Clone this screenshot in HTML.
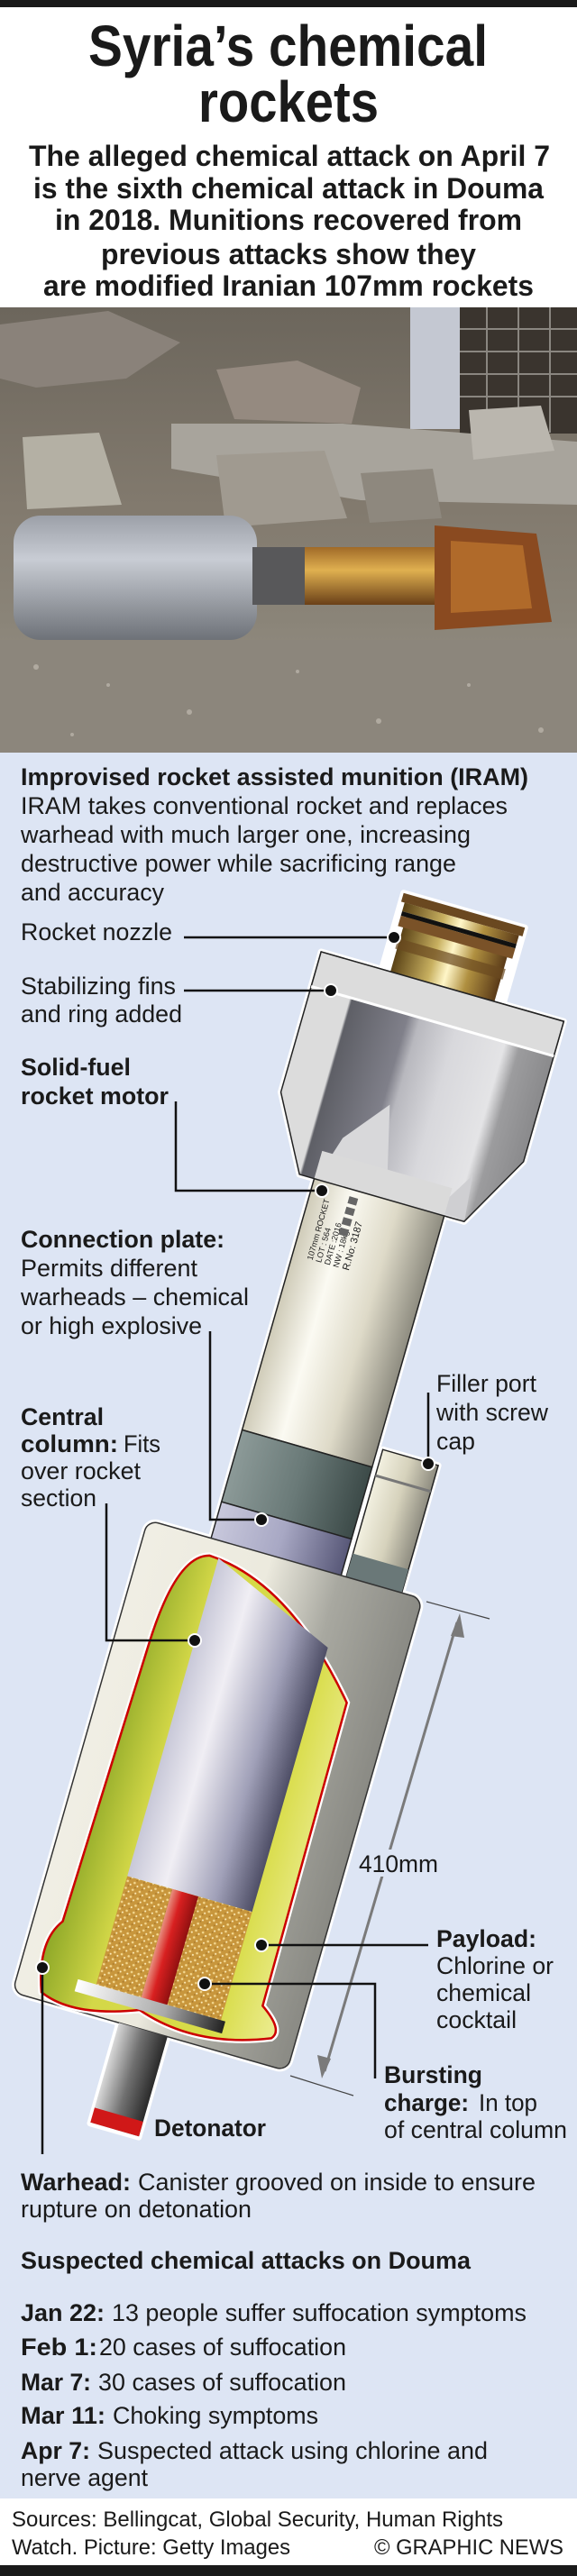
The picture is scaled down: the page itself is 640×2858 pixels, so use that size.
<!DOCTYPE html>
<html><head><meta charset="utf-8"><style>
html,body{margin:0;padding:0;background:#fff}
svg{display:block}
text{font-family:"Liberation Sans",sans-serif;fill:#1a1a1a}
.b{font-weight:bold}
</style></head><body>
<svg width="640" height="2858" viewBox="0 0 640 2858" xmlns="http://www.w3.org/2000/svg">
<defs>
<linearGradient id="brass" x1="0" x2="1"><stop offset="0" stop-color="#5a4216"/><stop offset=".35" stop-color="#c8b060"/><stop offset=".5" stop-color="#fff6c8"/><stop offset=".7" stop-color="#b09040"/><stop offset="1" stop-color="#5a3a18"/></linearGradient>
<linearGradient id="shroud" x1="0" x2="1"><stop offset="0" stop-color="#dcdcdc"/><stop offset=".16" stop-color="#dcdcdc"/><stop offset=".17" stop-color="#5e5f66"/><stop offset=".4" stop-color="#80808a"/><stop offset=".45" stop-color="#b8b8be"/><stop offset=".6" stop-color="#d8d8dc"/><stop offset=".8" stop-color="#e4e4e6"/><stop offset=".86" stop-color="#9c9c9e"/><stop offset="1" stop-color="#8a8a8c"/></linearGradient>
<linearGradient id="tube" x1="0" x2="1"><stop offset="0" stop-color="#cfcbb8"/><stop offset=".3" stop-color="#fbfaf2"/><stop offset=".65" stop-color="#dedac8"/><stop offset="1" stop-color="#8e8c80"/></linearGradient>
<linearGradient id="band" x1="0" x2="1"><stop offset="0" stop-color="#8c9a98"/><stop offset=".5" stop-color="#6a7a78"/><stop offset="1" stop-color="#3c4a48"/></linearGradient>
<linearGradient id="lav" x1="0" x2="1"><stop offset="0" stop-color="#c8c8dc"/><stop offset=".5" stop-color="#a8a8c4"/><stop offset="1" stop-color="#585878"/></linearGradient>
<linearGradient id="port" x1="0" x2="1"><stop offset="0" stop-color="#f2f0e0"/><stop offset=".5" stop-color="#d6d2bc"/><stop offset="1" stop-color="#8e8c80"/></linearGradient>
<linearGradient id="can" x1="0" x2="1"><stop offset="0" stop-color="#f0eee4"/><stop offset=".45" stop-color="#eceade"/><stop offset=".7" stop-color="#a8a8a0"/><stop offset="1" stop-color="#8a8a84"/></linearGradient>
<linearGradient id="pay" x1="0" x2="1"><stop offset="0" stop-color="#8ea828"/><stop offset=".25" stop-color="#d4d848"/><stop offset=".75" stop-color="#d8dc48"/><stop offset="1" stop-color="#ecec90"/></linearGradient>
<linearGradient id="col" x1="0" x2="1"><stop offset="0" stop-color="#c8c8d8"/><stop offset=".3" stop-color="#f0eef4"/><stop offset=".7" stop-color="#a0a0b8"/><stop offset="1" stop-color="#4e4e66"/></linearGradient>
<linearGradient id="red" x1="0" x2="1"><stop offset="0" stop-color="#e89080"/><stop offset=".4" stop-color="#d82020"/><stop offset="1" stop-color="#901010"/></linearGradient>
<linearGradient id="rod" x1="0" x2="1"><stop offset="0" stop-color="#d8d8d8"/><stop offset=".5" stop-color="#707070"/><stop offset="1" stop-color="#2a2a2a"/></linearGradient>
<linearGradient id="plate" x1="0" x2="1"><stop offset="0" stop-color="#fff"/><stop offset=".6" stop-color="#aaa"/><stop offset="1" stop-color="#222"/></linearGradient>
<pattern id="speck" width="8" height="8" patternUnits="userSpaceOnUse"><rect width="8" height="8" fill="#c8963c"/><circle cx="2" cy="2" r="1.3" fill="#f4d890"/><circle cx="6" cy="5" r="1" fill="#fff0c0"/><circle cx="4" cy="7" r=".8" fill="#a07028"/></pattern>
<linearGradient id="ph" x1="0" y1="0" x2="0" y2="1"><stop offset="0" stop-color="#6c665c"/><stop offset=".45" stop-color="#827a6e"/><stop offset=".7" stop-color="#8a8478"/><stop offset="1" stop-color="#9c968c"/></linearGradient>
<linearGradient id="cyl" x1="0" y1="0" x2="0" y2="1"><stop offset="0" stop-color="#9ca0a8"/><stop offset=".35" stop-color="#c8ccd4"/><stop offset="1" stop-color="#6e7278"/></linearGradient>
<linearGradient id="orng" x1="0" y1="0" x2="0" y2="1"><stop offset="0" stop-color="#a06a28"/><stop offset=".4" stop-color="#e0b050"/><stop offset="1" stop-color="#6a4018"/></linearGradient>
</defs>

<rect x="0" y="0" width="640" height="8" fill="#1a1a1a"/>
<text class="b" x="98" y="73" font-size="64" textLength="443" lengthAdjust="spacingAndGlyphs">Syria’s chemical</text>
<text class="b" x="220" y="135" font-size="64" textLength="200" lengthAdjust="spacingAndGlyphs">rockets</text>
<g class="b" font-size="32">
<text class="b" x="32" y="184" textLength="578" lengthAdjust="spacingAndGlyphs">The alleged chemical attack on April 7</text>
<text class="b" x="37" y="220" textLength="566" lengthAdjust="spacingAndGlyphs">is the sixth chemical attack in Douma</text>
<text class="b" x="61" y="255" textLength="518" lengthAdjust="spacingAndGlyphs">in 2018. Munitions recovered from</text>
<text class="b" x="112" y="293" textLength="416" lengthAdjust="spacingAndGlyphs">previous attacks show they</text>
<text class="b" x="48" y="328" textLength="544" lengthAdjust="spacingAndGlyphs">are modified Iranian 107mm rockets</text>
</g>

<!-- photo -->
<rect x="0" y="341" width="640" height="494" fill="url(#ph)"/>
<rect x="455" y="341" width="60" height="135" fill="#c4c8d2"/>
<rect x="510" y="341" width="130" height="140" fill="#3a342e"/>
<g stroke="#8a8680" stroke-width="2"><line x1="510" y1="365" x2="640" y2="365"/><line x1="510" y1="390" x2="640" y2="390"/><line x1="510" y1="415" x2="640" y2="415"/><line x1="510" y1="440" x2="640" y2="440"/><line x1="540" y1="341" x2="540" y2="480"/><line x1="575" y1="341" x2="575" y2="480"/><line x1="610" y1="341" x2="610" y2="480"/></g>
<polygon points="0,360 120,345 200,380 140,420 40,430 0,420" fill="#8a827a"/>
<polygon points="240,410 330,400 400,430 390,470 260,465" fill="#958a80"/>
<polygon points="190,470 380,470 640,490 640,560 400,555 190,520" fill="#a8a49c"/>
<polygon points="25,485 110,480 135,560 30,565" fill="#b4b0a4"/>
<polygon points="240,505 360,500 385,575 250,585" fill="#a09a90"/>
<polygon points="520,455 600,450 615,500 525,510" fill="#bab6ae"/>
<polygon points="400,525 480,520 490,575 410,580" fill="#8e887e"/>
<rect x="0" y="710" width="640" height="125" fill="#8c867c"/>
<g fill="#b0aaa0"><circle cx="40" cy="740" r="3"/><circle cx="120" cy="760" r="2"/><circle cx="210" cy="790" r="3"/><circle cx="330" cy="745" r="2"/><circle cx="420" cy="800" r="3"/><circle cx="520" cy="760" r="2"/><circle cx="600" cy="810" r="3"/><circle cx="80" cy="815" r="2"/></g>
<rect x="15" y="572" width="270" height="138" rx="30" fill="url(#cyl)"/>
<rect x="280" y="607" width="60" height="64" fill="#58585a"/>
<rect x="338" y="607" width="146" height="64" fill="url(#orng)"/>
<polygon points="482,583 595,592 612,690 482,699" fill="#8a4a20"/>
<polygon points="500,600 580,605 590,675 500,680" fill="#b06a2a"/>

<!-- diagram bg -->
<rect x="0" y="835" width="640" height="1937" fill="#dde5f4"/>

<g font-size="27">
<text class="b" x="23" y="871" textLength="563" lengthAdjust="spacingAndGlyphs">Improvised rocket assisted munition (IRAM)</text>
<text x="23" y="903" textLength="540" lengthAdjust="spacingAndGlyphs">IRAM takes conventional rocket and replaces</text>
<text x="23" y="935" textLength="499" lengthAdjust="spacingAndGlyphs">warhead with much larger one, increasing</text>
<text x="23" y="967" textLength="483" lengthAdjust="spacingAndGlyphs">destructive power while sacrificing range</text>
<text x="23" y="999" textLength="159" lengthAdjust="spacingAndGlyphs">and accuracy</text>
<text x="23" y="1043" textLength="168" lengthAdjust="spacingAndGlyphs">Rocket nozzle</text>
<text x="23" y="1103" textLength="172" lengthAdjust="spacingAndGlyphs">Stabilizing fins</text>
<text x="23" y="1134" textLength="179" lengthAdjust="spacingAndGlyphs">and ring added</text>
<text class="b" x="23" y="1193" textLength="122" lengthAdjust="spacingAndGlyphs">Solid-fuel</text>
<text class="b" x="23" y="1225" textLength="164" lengthAdjust="spacingAndGlyphs">rocket motor</text>
<text class="b" x="23" y="1384" textLength="226" lengthAdjust="spacingAndGlyphs">Connection plate:</text>
<text x="23" y="1416" textLength="196" lengthAdjust="spacingAndGlyphs">Permits different</text>
<text x="23" y="1448" textLength="253" lengthAdjust="spacingAndGlyphs">warheads – chemical</text>
<text x="23" y="1480" textLength="201" lengthAdjust="spacingAndGlyphs">or high explosive</text>
<text x="484" y="1544" textLength="111" lengthAdjust="spacingAndGlyphs">Filler port</text>
<text x="484" y="1576" textLength="124" lengthAdjust="spacingAndGlyphs">with screw</text>
<text x="484" y="1608" textLength="43" lengthAdjust="spacingAndGlyphs">cap</text>
<text class="b" x="23" y="1581" textLength="92" lengthAdjust="spacingAndGlyphs">Central</text>
<text class="b" x="23" y="1611" textLength="108" lengthAdjust="spacingAndGlyphs">column:</text>
<text x="137" y="1611" textLength="41" lengthAdjust="spacingAndGlyphs">Fits</text>
<text x="23" y="1641" textLength="133" lengthAdjust="spacingAndGlyphs">over rocket</text>
<text x="23" y="1671" textLength="84" lengthAdjust="spacingAndGlyphs">section</text>
</g>

<!-- rocket -->
<g transform="translate(515,1010) rotate(16)">
 <g stroke="#fff" stroke-width="7" fill="#fff" stroke-linejoin="round">
  <rect x="-70" y="0" width="140" height="95"/>
  <polygon points="-140,88 140,88 140,250 95,332 -95,332 -140,250"/>
  <rect x="-78" y="330" width="150" height="420"/>
  <rect x="78" y="600" width="64" height="160"/>
  <rect x="-151" y="747" width="317" height="545" rx="12"/>
  <rect x="-28" y="1290" width="56" height="118"/>
 </g>
 <!-- nozzle -->
 <rect x="-60" y="22" width="120" height="75" fill="url(#brass)"/>
 <rect x="-70" y="0" width="140" height="10" fill="#6a4820"/>
 <rect x="-66" y="10" width="132" height="10" fill="url(#brass)"/>
 <rect x="-66" y="20" width="132" height="5" fill="#111"/>
 <rect x="-66" y="25" width="132" height="12" fill="#7a5228"/>
 <rect x="-62" y="50" width="124" height="12" fill="#6a4820" opacity=".7"/>
 <!-- shroud -->
 <polygon points="-140,88 140,88 140,250 95,332 -95,332 -140,250" fill="url(#shroud)" stroke="#222" stroke-width="1.5"/>
 <rect x="-140" y="88" width="280" height="40" fill="#dcdcdc" stroke="#222" stroke-width="1.5"/>
 <line x1="-140" y1="128" x2="140" y2="128" stroke="#fff" stroke-width="3"/>
 <polygon points="-75,330 -60,280 -20,230 5,330" fill="#d8d8da"/>
 <polygon points="60,330 90,280 95,330" fill="#cfcfd2"/>
 <rect x="-78" y="300" width="150" height="35" fill="#dadada"/>
 <!-- tube -->
 <rect x="-78" y="332" width="150" height="290" fill="url(#tube)" stroke="#222" stroke-width="1.5"/>
 <g transform="translate(-55,420) rotate(-90)" font-size="9" fill="#333">
  <text x="0" y="0" font-size="9">107mm ROCKET</text>
  <text x="0" y="10" font-size="9">LOT : 564</text>
  <text x="0" y="20" font-size="9">DATE :2016</text>
  <text x="0" y="30" font-size="9">NW : 18kg</text>
  <text x="0" y="42" font-size="11">R.No: 3187</text>
 </g>
 <g fill="#666"><rect x="-35" y="340" width="10" height="8"/><rect x="-35" y="352" width="10" height="8"/><rect x="-35" y="364" width="10" height="8"/><rect x="-35" y="376" width="10" height="8"/></g>
 <rect x="-78" y="622" width="150" height="83" fill="url(#band)" stroke="#222" stroke-width="1.5"/>
 <rect x="-78" y="705" width="150" height="45" fill="url(#lav)" stroke="#222" stroke-width="1.5"/>
 <!-- filler port -->
 <rect x="78" y="600" width="64" height="160" fill="url(#port)" stroke="#222" stroke-width="1.5"/>
 <line x1="78" y1="630" x2="142" y2="630" stroke="#777" stroke-width="3"/>
 <rect x="78" y="720" width="64" height="40" fill="#6a7878"/>
 <!-- canister -->
 <rect x="-151" y="747" width="317" height="545" rx="12" fill="url(#can)" stroke="#333" stroke-width="1.5"/>
 <path d="M -112 880 Q -110 775 -74 766 Q 20 770 117 881 L 120 1230 Q 150 1250 139 1262 Q 60 1295 -10 1272 Q -80 1300 -120 1283 Q -140 1230 -119 1201 Z" fill="url(#pay)" stroke="#fff" stroke-width="7"/>
 <path d="M -112 880 Q -110 775 -74 766 Q 20 770 117 881 L 120 1230 Q 150 1250 139 1262 Q 60 1295 -10 1272 Q -80 1300 -120 1283 Q -140 1230 -119 1201 Z" fill="url(#pay)" stroke="#c00" stroke-width="2.5"/>
 <path d="M -64 766 L 80 828 L 80 1133 L -64 1133 Z" fill="url(#col)"/>
 <rect x="-64" y="1133" width="144" height="130" fill="url(#speck)"/>
 <rect x="-12" y="1133" width="30" height="130" fill="url(#red)"/>
 <rect x="-85" y="1258" width="170" height="14" fill="url(#plate)"/>
 <!-- detonator -->
 <rect x="-28" y="1292" width="56" height="115" fill="url(#rod)"/>
 <rect x="-28" y="1390" width="56" height="17" fill="#d01818"/>
</g>

<!-- 410mm dimension -->
<line x1="473" y1="1777" x2="543" y2="1796" stroke="#444" stroke-width="1.2"/>
<line x1="322" y1="2303" x2="392" y2="2325" stroke="#444" stroke-width="1.2"/>
<line x1="507" y1="1800" x2="360" y2="2298" stroke="#7a7a7a" stroke-width="3"/>
<polygon points="510,1790 500,1815 515,1817" fill="#7a7a7a"/>
<polygon points="357,2306 352,2280 367,2284" fill="#7a7a7a"/>
<rect x="394" y="2052" width="96" height="30" fill="#dde5f4"/>
<text x="398" y="2077" font-size="27" textLength="88" lengthAdjust="spacingAndGlyphs">410mm</text>

<!-- leaders -->
<g stroke="#111" stroke-width="2.5" fill="none">
<polyline points="204,1040 437,1040"/>
<polyline points="204,1099 367,1099"/>
<polyline points="195,1222 195,1321 357,1321"/>
<polyline points="233,1477 233,1686 290,1686"/>
<polyline points="475,1545 475,1624"/>
<polyline points="118,1668 118,1820 216,1820"/>
<polyline points="290,2158 475,2158"/>
<polyline points="227,2201 416,2201 416,2306"/>
<polyline points="47,2183 47,2390"/>
</g>
<g fill="#111" stroke="#fff" stroke-width="2">
<circle cx="437" cy="1040" r="7"/><circle cx="367" cy="1099" r="7"/><circle cx="357" cy="1321" r="7"/><circle cx="290" cy="1686" r="7"/><circle cx="475" cy="1624" r="7"/><circle cx="216" cy="1820" r="7"/><circle cx="290" cy="2158" r="7"/><circle cx="227" cy="2201" r="7"/><circle cx="47" cy="2183" r="7"/>
</g>

<g font-size="27">
<text class="b" x="484" y="2160" textLength="111" lengthAdjust="spacingAndGlyphs">Payload:</text>
<text x="484" y="2190" textLength="130" lengthAdjust="spacingAndGlyphs">Chlorine or</text>
<text x="484" y="2220" textLength="105" lengthAdjust="spacingAndGlyphs">chemical</text>
<text x="484" y="2250" textLength="89" lengthAdjust="spacingAndGlyphs">cocktail</text>
<text class="b" x="426" y="2311" textLength="109" lengthAdjust="spacingAndGlyphs">Bursting</text>
<text class="b" x="426" y="2342" textLength="94" lengthAdjust="spacingAndGlyphs">charge:</text>
<text x="531" y="2342" textLength="65" lengthAdjust="spacingAndGlyphs">In top</text>
<text x="426" y="2372" textLength="203" lengthAdjust="spacingAndGlyphs">of central column</text>
<text class="b" x="171" y="2370" textLength="124" lengthAdjust="spacingAndGlyphs">Detonator</text>
<text class="b" x="23" y="2430" textLength="122" lengthAdjust="spacingAndGlyphs">Warhead:</text>
<text x="153" y="2430" textLength="441" lengthAdjust="spacingAndGlyphs">Canister grooved on inside to ensure</text>
<text x="23" y="2460" textLength="256" lengthAdjust="spacingAndGlyphs">rupture on detonation</text>
<text class="b" x="23" y="2517" textLength="499" lengthAdjust="spacingAndGlyphs">Suspected chemical attacks on Douma</text>
<text class="b" x="23" y="2575" textLength="93" lengthAdjust="spacingAndGlyphs">Jan 22:</text>
<text x="124" y="2575" textLength="460" lengthAdjust="spacingAndGlyphs">13 people suffer suffocation symptoms</text>
<text class="b" x="23" y="2613" textLength="85" lengthAdjust="spacingAndGlyphs">Feb 1:</text>
<text x="110" y="2613" textLength="274" lengthAdjust="spacingAndGlyphs">20 cases of suffocation</text>
<text class="b" x="23" y="2652" textLength="78" lengthAdjust="spacingAndGlyphs">Mar 7:</text>
<text x="109" y="2652" textLength="275" lengthAdjust="spacingAndGlyphs">30 cases of suffocation</text>
<text class="b" x="23" y="2689" textLength="94" lengthAdjust="spacingAndGlyphs">Mar 11:</text>
<text x="125" y="2689" textLength="228" lengthAdjust="spacingAndGlyphs">Choking symptoms</text>
<text class="b" x="23" y="2728" textLength="77" lengthAdjust="spacingAndGlyphs">Apr 7:</text>
<text x="108" y="2728" textLength="433" lengthAdjust="spacingAndGlyphs">Suspected attack using chlorine and</text>
<text x="23" y="2758" textLength="141" lengthAdjust="spacingAndGlyphs">nerve agent</text>
</g>

<!-- footer -->
<rect x="0" y="2772" width="640" height="74" fill="#fff"/>
<g font-size="24">
<text x="13" y="2803" textLength="545" lengthAdjust="spacingAndGlyphs">Sources: Bellingcat, Global Security, Human Rights</text>
<text x="13" y="2834" textLength="309" lengthAdjust="spacingAndGlyphs">Watch. Picture: Getty Images</text>
<text x="415" y="2834" textLength="210" lengthAdjust="spacingAndGlyphs">© GRAPHIC NEWS</text>
</g>
<rect x="0" y="2846" width="640" height="12" fill="#1a1a1a"/>
</svg>
</body></html>
